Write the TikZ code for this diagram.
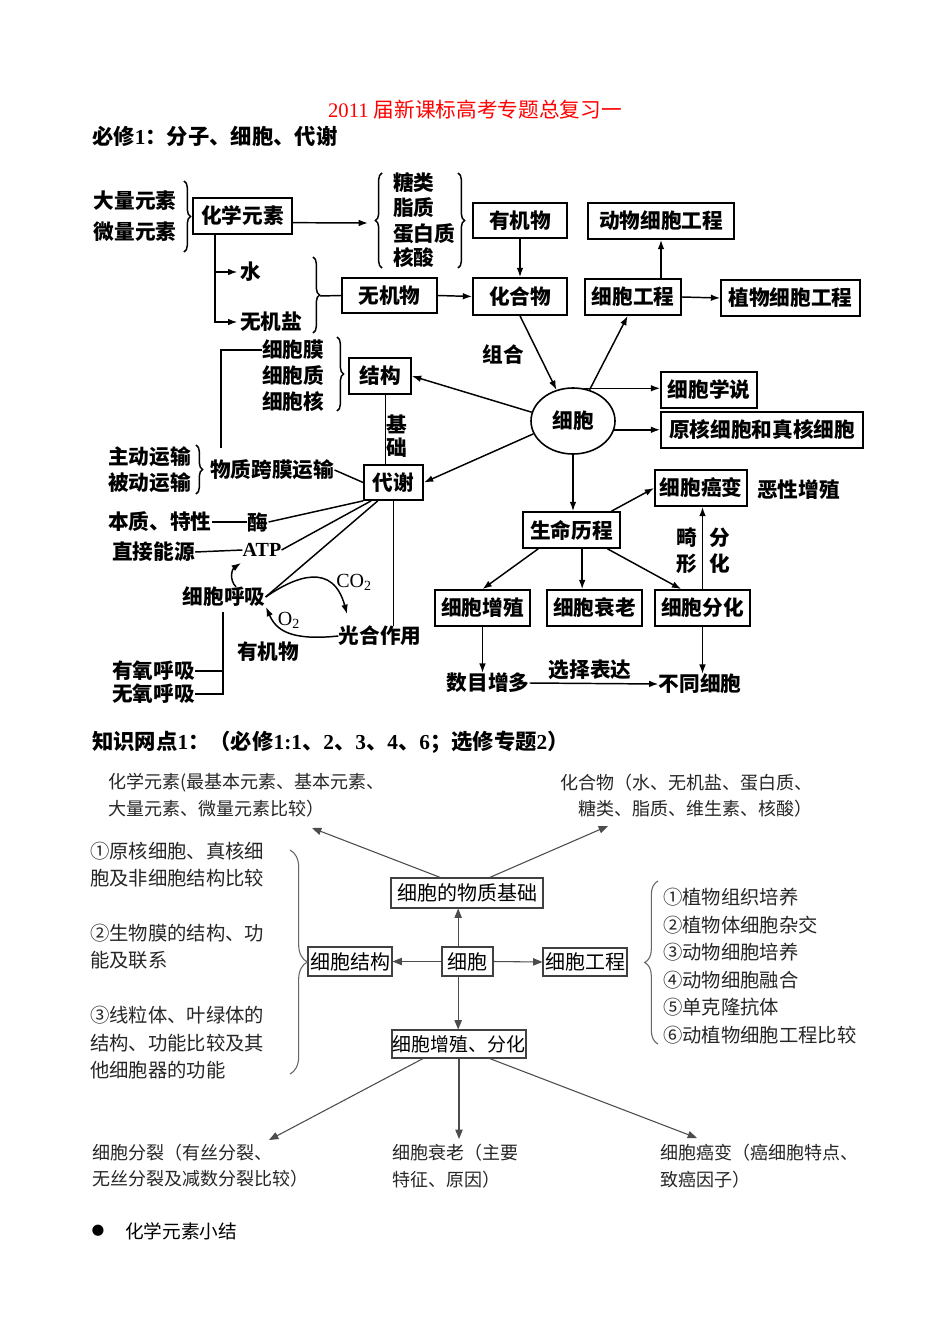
\documentclass[tikz,border=0pt]{standalone}
\usepackage{fontspec}
\setmainfont{Liberation Serif}
\newfontfamily\cjk{Noto Sans CJK SC}
\newfontfamily\dejavu{DejaVu Sans}
\usetikzlibrary{arrows.meta,shapes.geometric,decorations.pathreplacing}
\newcommand{\FntB}{\cjk\bfseries\fontsize{15.5}{18}\selectfont}
\newcommand{\FntH}{\cjk\bfseries\fontsize{16}{19}\selectfont}
\newcommand{\FntR}{\cjk\fontsize{13.5}{16}\selectfont}
\newcommand{\FntL}{\cjk\fontsize{14.5}{17}\selectfont}
\newcommand{\FntBx}{\cjk\fontsize{15}{18}\selectfont}
\tikzset{
 lbl/.style={inner sep=0pt, font=\FntB},
 tbox/.style={draw, line width=1.3pt, inner sep=0pt, font=\FntB},
 arr/.style={line width=1.1pt, -{Latex[length=7pt,width=5pt]}},
 ln/.style={line width=1.1pt},
 brc/.style={decorate, decoration={brace, amplitude=5pt}, line width=1.1pt},
 bt/.style={inner sep=0pt, font=\FntR, text=black!85},
 bl/.style={inner sep=0pt, font=\FntL, text=black!85},
 bbox/.style={draw=black!75, line width=0.8pt, inner sep=0pt, font=\FntBx},
 barr/.style={draw=black!70, line width=0.8pt, -{Triangle[length=7pt,width=5.5pt]}},
 bbrc/.style={decorate, draw=black!60, line width=0.8pt},
}
% box: style, name, x1, y1, x2, y2, text
\newcommand{\mybox}[7]{\node[#1, minimum width={(#5-#3)*0.75pt}, minimum height={(#6-#4)*0.75pt}] (#2) at ({(#3+#5)/2},{(#4+#6)/2}) {#7};}
\begin{document}
\begin{tikzpicture}[x=0.75pt,y=-0.75pt]
\useasboundingbox (0,0) rectangle (950,1344);
\fill[white] (0,0) rectangle (950,1344);

% headings
\node[font=\fontsize{15.5}{18}\selectfont, text=red, inner sep=0pt] (title) at (475,110) {2011 {\cjk 届新课标高考专题总复习一}};
\node[anchor=west, font=\FntH, inner sep=0pt] (h1) at (92,136) {必修{\rmfamily 1}：分子、细胞、代谢};

% ---------- top diagram: nodes ----------
\node[lbl] (dlys) at (135,201) {大量元素};
\node[lbl] (wlys) at (135,232) {微量元素};
\mybox{tbox}{hxys}{193}{198}{292}{234}{化学元素}
\node[lbl, anchor=west] (tl) at (393,183) {糖类};
\node[lbl, anchor=west] (zz0) at (393,208) {脂质};
\node[lbl, anchor=west] (dbz) at (393,234) {蛋白质};
\node[lbl, anchor=west] (hs) at (393,258) {核酸};
\mybox{tbox}{yjw}{473}{203}{567}{238}{有机物}
\mybox{tbox}{hhw}{473}{278}{567}{315}{化合物}
\mybox{tbox}{dwgc}{588}{203}{734}{239}{动物细胞工程}
\mybox{tbox}{xbgc}{585}{279}{681}{315}{细胞工程}
\mybox{tbox}{zwgc}{721}{280}{860}{316}{植物细胞工程}
\node[lbl, anchor=west] (shui) at (240,272) {水};
\node[lbl, anchor=west] (wjy) at (240,322) {无机盐};
\mybox{tbox}{wjw}{342}{278}{437}{313}{无机物}
\node[lbl] (zuhe) at (503,355) {组合};
\node[draw, ellipse, line width=1.2pt, minimum width=63pt, minimum height=49.5pt, inner sep=0pt, font=\FntB] (cell) at (573,421) {细胞};
\mybox{tbox}{xbxs}{661}{372}{757}{408}{细胞学说}
\mybox{tbox}{yh}{661}{412}{863}{448}{原核细胞和真核细胞}
\mybox{tbox}{ab}{655}{470}{747}{506}{细胞癌变}
\node[lbl, anchor=west] (exzz) at (757,490) {恶性增殖};
\mybox{tbox}{smlc}{523}{512}{620}{548}{生命历程}
\node[lbl] (ji) at (687,538) {畸};
\node[lbl] (xing) at (687,564) {形};
\node[lbl] (fen) at (720,538) {分};
\node[lbl] (hua) at (720,564) {化};
\mybox{tbox}{zz}{435}{590}{530}{626}{细胞增殖}
\mybox{tbox}{sl}{547}{590}{642}{626}{细胞衰老}
\mybox{tbox}{fh}{655}{590}{750}{626}{细胞分化}
\node[lbl] (smzd) at (488,683) {数目增多};
\node[lbl] (xzbd) at (590,670) {选择表达};
\node[lbl] (btxb) at (700,684) {不同细胞};

\node[lbl, anchor=west] (xbm) at (262,350) {细胞膜};
\node[lbl, anchor=west] (xbz) at (262,376) {细胞质};
\node[lbl, anchor=west] (xbh) at (262,402) {细胞核};
\mybox{tbox}{jg}{349}{358}{411}{394}{结构}
\node[lbl] (jij) at (397,424) {基};
\node[lbl] (chu) at (397,448) {础};
\mybox{tbox}{dx}{364}{465}{423}{500}{代谢}
\node[lbl, anchor=west] (zdys) at (108,457) {主动运输};
\node[lbl, anchor=west] (bdys) at (108,483) {被动运输};
\node[lbl, anchor=west] (wzkm) at (210,470) {物质跨膜运输};
\node[lbl, anchor=west] (bzt) at (108,522) {本质、特性};
\node[lbl] (mei) at (258,522) {酶};
\node[lbl, anchor=west] (zjny) at (112,552) {直接能源};
\node[inner sep=0pt, font=\rmfamily\bfseries\fontsize{15}{18}\selectfont] (atp) at (262,550) {ATP};
\node[lbl] (hx) at (224,597) {细胞呼吸};
\node[lbl] (ghzy) at (380,636) {光合作用};
\node[lbl] (yjw2) at (268,652) {有机物};
\node[inner sep=0pt, font=\rmfamily\fontsize{15}{18}\selectfont] (co2) at (354,582) {CO\textsubscript{2}};
\node[inner sep=0pt, font=\rmfamily\fontsize{15}{18}\selectfont] (o2) at (289,620) {O\textsubscript{2}};
\node[lbl, anchor=west] (yy) at (112,671) {有氧呼吸};
\node[lbl, anchor=west] (wy) at (112,694) {无氧呼吸};

% ---------- top diagram: connectors ----------
\draw[brc] (184,181) -- (184,252);
\coordinate (bL) at (368,223);
\draw[arr] ([yshift=-5pt]hxys.east) -- (bL);
\draw[brc] (382,268) -- (382,173);
\draw[brc] (458,173) -- (458,268);
\coordinate (c1) at (215,234);
\draw[arr, shorten >=2pt] (c1) |- (shui.west);
\draw[arr, shorten >=2pt] (c1) |- (wjy.west);
\draw[brc] (313,257) -- (313,333);
\coordinate (b4t) at (320,296);
\draw[ln] (b4t) -- (wjw.west);
\draw[arr] (wjw.east) -- (hhw.west);
\draw[arr] (yjw.south) -- (hhw.north);
\draw[arr] (xbgc.north -| dwgc.south) -- (dwgc.south);
\draw[arr] (xbgc.east) -- (zwgc.west);
\draw[arr] (hhw.south) -- (cell.118);
\draw[arr] (cell.62) -- ([xshift=-4pt]xbgc.south);
\draw[arr] (cell.72) -- (cell.72 -| xbxs.west);
\draw[arr] (cell.-12) -- (cell.-12 -| yh.west);
\draw[arr] (cell.south) -- (cell.south |- smlc.north);
\draw[arr] ([xshift=-7pt]smlc.north east) -- (ab.west);
\draw[arr] ([xshift=12pt]smlc.south west) -- (zz.north);
\draw[arr] ([xshift=8pt]smlc.south) -- ([xshift=8pt]smlc.south |- sl.north);
\draw[arr] ([xshift=-10pt]smlc.south east) -- ([xshift=-16pt]fh.north);
\draw[arr] (fh.north) -- (fh.north |- ab.south);
\draw[arr] (zz.south) -- (zz.south |- smzd.north);
\draw[arr] (smzd.east) -- (btxb.west);
\draw[arr] (fh.south) -- (fh.south |- btxb.north);

\draw[arr] (cell.168) -- (jg.east);
\draw[ln] ([xshift=4pt]jg.south) -- ([xshift=4pt]jg.south |- dx.north);
\draw[arr] (cell.198) -- (dx.east);
\draw[brc] (337,337) -- (337,411);
\coordinate (lend) at (221,448);
\draw[ln] (xbm.west) -| (lend);
\draw[brc] (196,445) -- (196,494);
\draw[ln] (wzkm.east) -- (dx.west);
\draw[ln] (bzt.east) -- (mei.west);
\draw[ln] (mei.east) -- (dx.south west);
\draw[ln] (zjny.east) -- (atp.west);
\draw[ln] (atp.east) -- ([xshift=6pt]dx.south west);
\draw[ln] (hx.east) -- ([xshift=11pt]dx.south west);
\draw[ln] (dx.south) -- (dx.south |- ghzy.north);
\coordinate (atpt) at (241,563);
\draw[arr] ([xshift=9pt]hx.north) .. controls (229,580) and (232,569) .. (atpt);
\coordinate (co2t) at (347,614);
\draw[arr] (hx.east) .. controls (296,576) and (333,562) .. (co2t);
\coordinate (o2t) at (266,607);
\draw[arr] (ghzy.west) .. controls (290,641) and (276,630) .. (o2t);
\coordinate (bt1) at (223,612);
\draw[ln] (bt1) |- (wy.east);
\draw[ln] (yy.east) -- (yy.east -| bt1);

% ---------- second heading ----------
\node[anchor=west, font=\FntH, inner sep=0pt] (h2) at (92,742) {知识网点{\rmfamily 1}：（必修{\rmfamily 1:1}、{\rmfamily 2}、{\rmfamily 3}、{\rmfamily 4}、{\rmfamily 6}；选修专题{\rmfamily 2}）};

% ---------- bottom diagram ----------
\node[bt, anchor=west] (t1) at (108,783) {化学元素(最基本元素、基本元素、};
\node[bt, anchor=west] (t2) at (108,809) {大量元素、微量元素比较）};
\node[bt, anchor=west] (t3) at (560,783) {化合物（水、无机盐、蛋白质、};
\node[bt, anchor=west] (t4) at (578,809) {糖类、脂质、维生素、核酸）};
\mybox{bbox}{wzjc}{391}{878}{543}{908}{细胞的物质基础}
\mybox{bbox}{xb2}{442}{947}{493}{976}{细胞}
\mybox{bbox}{xbjg}{308}{947}{392}{976}{细胞结构}
\mybox{bbox}{xbgc2}{543}{948}{627}{976}{细胞工程}
\mybox{bbox, font=\cjk\fontsize{14.2}{17}\selectfont}{zzfh}{392}{1030}{526}{1058}{细胞增殖、分化}

\node[bl, anchor=west] (l1) at (90,851) {①原核细胞、真核细};
\node[bl, anchor=west] (l2) at (90,878) {胞及非细胞结构比较};
\node[bl, anchor=west] (l3) at (90,933) {②生物膜的结构、功};
\node[bl, anchor=west] (l4) at (90,960) {能及联系};
\node[bl, anchor=west] (l5) at (90,1015) {③线粒体、叶绿体的};
\node[bl, anchor=west] (l6) at (90,1043) {结构、功能比较及其};
\node[bl, anchor=west] (l7) at (90,1070) {他细胞器的功能};

\node[bl, anchor=west] (r1) at (663,897) {①植物组织培养};
\node[bl, anchor=west] (r2) at (663,925) {②植物体细胞杂交};
\node[bl, anchor=west] (r3) at (663,952) {③动物细胞培养};
\node[bl, anchor=west] (r4) at (663,980) {④动物细胞融合};
\node[bl, anchor=west] (r5) at (663,1007) {⑤单克隆抗体};
\node[bl, anchor=west] (r6) at (663,1035) {⑥动植物细胞工程比较};

\node[bt, anchor=west] (d1) at (92,1153) {细胞分裂（有丝分裂、};
\node[bt, anchor=west] (d2) at (92,1179) {无丝分裂及减数分裂比较）};
\node[bt, anchor=west] (d3) at (392,1153) {细胞衰老（主要};
\node[bt, anchor=west] (d4) at (392,1180) {特征、原因）};
\node[bt, anchor=west] (d5) at (660,1153) {细胞癌变（癌细胞特点、};
\node[bt, anchor=west] (d6) at (660,1180) {致癌因子）};

\coordinate (ta1) at (312,828);
\coordinate (ta2) at (608,826);
\draw[barr] ([xshift=-20pt]wzjc.north) -- (ta1);
\draw[barr] ([xshift=17pt]wzjc.north) -- (ta2);
\draw[barr] ([xshift=-7pt]xb2.north) -- ([xshift=-7pt]xb2.north |- wzjc.south);
\draw[barr] (xb2.west) -- (xbjg.east);
\draw[barr] (xb2.east) -- (xbgc2.west);
\draw[barr] ([xshift=-7pt]xb2.south) -- ([xshift=-7pt]xb2.south |- zzfh.north);
\coordinate (tb1) at (269,1140);
\coordinate (tb2) at (459,1139);
\coordinate (tb3) at (697,1138);
\draw[barr] ([xshift=-27pt]zzfh.south) -- (tb1);
\draw[barr] (zzfh.south) -- (tb2);
\draw[barr] ([xshift=23pt]zzfh.south) -- (tb3);
\draw[bbrc, decoration={brace, amplitude=13pt}] (290,850) -- (290,1074);
\draw[bbrc, decoration={brace, amplitude=10pt}] (658,1044) -- (658,881);

\node[inner sep=0pt, font=\dejavu\fontsize{11}{13}\selectfont] (bul) at (98,1231) {●};
\node[anchor=west, inner sep=0pt, font=\cjk\fontsize{14}{17}\selectfont] (xj) at (125,1231) {化学元素小结};
\end{tikzpicture}
\end{document}
